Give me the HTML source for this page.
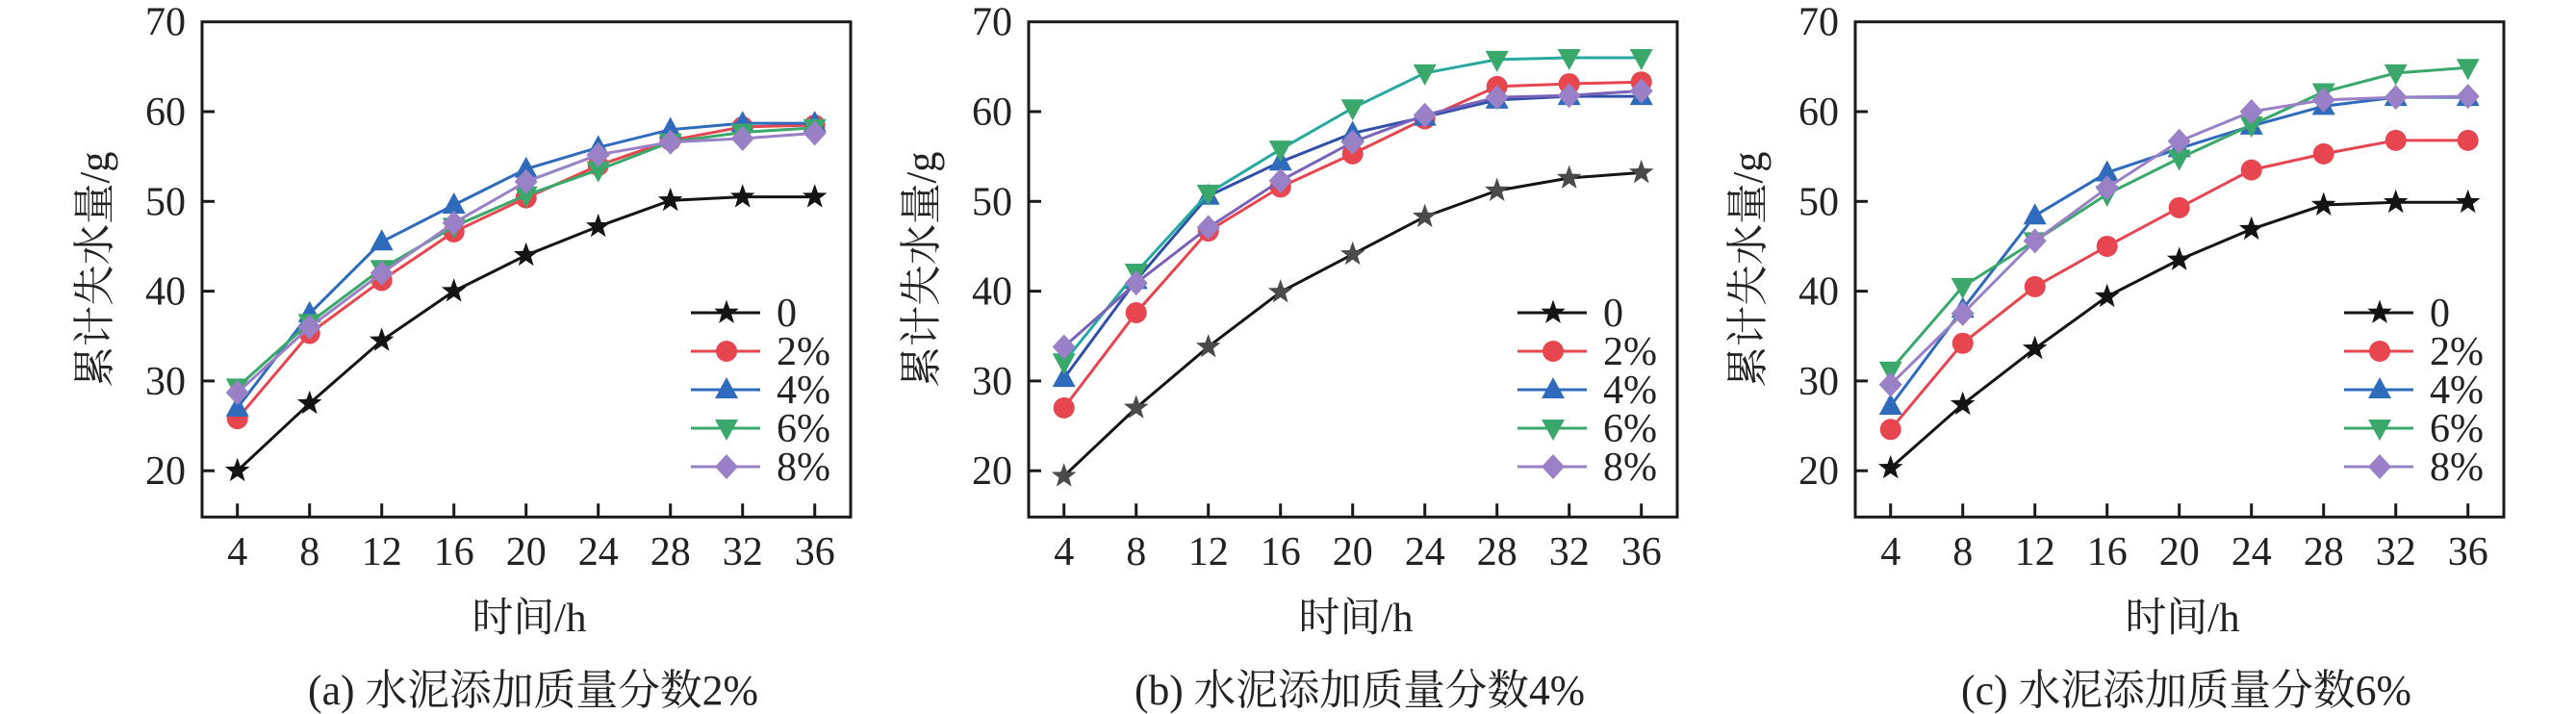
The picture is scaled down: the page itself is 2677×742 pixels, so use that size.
<!DOCTYPE html>
<html><head><meta charset="utf-8"><style>
html,body{margin:0;padding:0;background:#fff;}
svg{display:block;font-family:"Liberation Serif","Noto Serif CJK SC","Noto Sans CJK SC",serif;}
</style></head><body>
<svg id="chart" width="2677" height="742" viewBox="0 0 2677 742" xmlns="http://www.w3.org/2000/svg"></svg>
<script>
const hours = [4, 8, 12, 16, 20, 24, 28, 32, 36];
const yTicks = [20, 30, 40, 50, 60, 70];
const seriesNames = ["0", "2%", "4%", "6%", "8%"];
const captions = ["(a) 水泥添加质量分数2%", "(b) 水泥添加质量分数4%", "(c) 水泥添加质量分数6%"];
const a0 = [20, 27.5, 34.5, 40, 44, 47.2, 50.1, 50.5, 50.5];
const a2 = [25.8, 35.3, 41.2, 46.6, 50.4, 54, 56.8, 58.3, 58.5];
const a4 = [27, 37.5, 45.5, 49.6, 53.6, 56, 58, 58.7, 58.7];
const a6 = [29.3, 36.5, 42.5, 47.2, 50.7, 53.5, 56.6, 57.7, 58.2];
const a8 = [28.7, 36, 42, 47.6, 52.2, 55.2, 56.6, 57, 57.6];
const b0 = [19.4, 27, 33.8, 39.9, 44.1, 48.3, 51.2, 52.6, 53.2];
const b2 = [27.0, 37.6, 46.7, 51.6, 55.3, 59.2, 62.8, 63.1, 63.3];
const b4 = [30.3, 41.2, 50.6, 54.4, 57.6, 59.4, 61.3, 61.7, 61.7];
const b6 = [32.1, 42.1, 50.9, 55.8, 60.4, 64.3, 65.8, 66, 66.0];
const b8 = [33.8, 40.9, 47.1, 52.3, 56.6, 59.6, 61.6, 61.8, 62.3];
const c0 = [20.3, 27.4, 33.6, 39.4, 43.5, 46.9, 49.6, 49.9, 49.9];
const c2 = [24.6, 34.2, 40.5, 45, 49.3, 53.5, 55.3, 56.8, 56.8];
const c4 = [27.2, 38, 48.4, 53.2, 55.9, 58.4, 60.6, 61.6, 61.6];
const c6 = [31.2, 40.5, 45.6, 50.8, 54.8, 58.5, 62.2, 64.3, 64.9];
const c8 = [29.6, 37.5, 45.6, 51.5, 56.7, 60, 61.3, 61.6, 61.7];
const panelData = [[a0,a2,a4,a6,a8],[b0,b2,b4,b6,b8],[c0,c2,c4,c6,c8]];

const NS = "http://www.w3.org/2000/svg";
const svg = document.getElementById("chart");
const colors = ["#141414","#e8464f","#2f6bbd","#3aa86a","#9a80c6"];
const lineColorsB = ["#141414","#e8464f","#2f4fa8","#27a8a0","#7a62b8"];
const markers = ["star","circle","tri","tridown","diamond"];
function mk(tag, attrs, parent){const e=document.createElementNS(NS,tag);for(const k in attrs)e.setAttribute(k,attrs[k]);(parent||svg).appendChild(e);return e;}
function markerPath(type,x,y){
  if(type==="star"){let p="";for(let i=0;i<10;i++){const r=i%2?5.5:13.5;const a=-Math.PI/2+i*Math.PI/5;p+=(i?"L":"M")+(x+r*Math.cos(a)).toFixed(1)+","+(y+r*Math.sin(a)).toFixed(1);}return p+"Z";}
  if(type==="tri")return `M${x},${y-13}L${x+12},${y+9}L${x-12},${y+9}Z`;
  if(type==="tridown")return `M${x},${y+13}L${x+12},${y-9}L${x-12},${y-9}Z`;
  if(type==="diamond")return `M${x},${y-13}L${x+12},${y}L${x},${y+13}L${x-12},${y}Z`;
  return null;
}
function drawMarker(g,type,x,y,color){
  if(type==="circle")return mk("circle",{cx:x,cy:y,r:11,fill:color},g);
  return mk("path",{d:markerPath(type,x,y),fill:color},g);
}
const L0=210,R0=884,T=22.7,B=537.3;
for(let p=0;p<3;p++){
  const ox=p*859;
  const L=L0+ox,R=R0+ox;
  const xs=h=>L+36.7+(h-4)*18.75;
  const ys=v=>T+(70-v)*9.33;
  const g=mk("g",{});
  
  
  const frame=mk("rect",{x:L,y:T,width:R-L,height:B-T,fill:"none",stroke:"#1a1a1a","stroke-width":3},g);
  
  
  yTicks.forEach(v=>{
    const yy=ys(v);
    if(v<70)mk("line",{x1:L,x2:L+13,y1:yy,y2:yy,stroke:"#1a1a1a","stroke-width":3},g);
    const t=mk("text",{x:L-17,y:yy+14,"text-anchor":"end","font-size":42,fill:"#222"},g);
    t.textContent=v;
    
    
  });
  hours.forEach(h=>{
    const xx=xs(h);
    mk("line",{x1:xx,x2:xx,y1:B,y2:B-14,stroke:"#1a1a1a","stroke-width":3},g);
    const t=mk("text",{x:xx,y:587,"text-anchor":"middle","font-size":42,fill:"#222"},g);
    t.textContent=h;
    
    
  });
  const yt=mk("text",{x:0,y:0,transform:`translate(${L-97},${(T+B)/2}) rotate(-90)`,"text-anchor":"middle","font-size":44,textLength:245,lengthAdjust:"spacingAndGlyphs",fill:"#222"},g);
  yt.textContent="累计失水量/g";
  
  
  const xt=mk("text",{x:(L+R)/2+3,y:656,"text-anchor":"middle","font-size":42,textLength:119,lengthAdjust:"spacingAndGlyphs",fill:"#222"},g);
  xt.textContent="时间/h";
  
  
  const cap=mk("text",{x:(L+R)/2+7,y:732,"text-anchor":"middle","font-size":44,textLength:468,lengthAdjust:"spacingAndGlyphs",fill:"#222"},g);
  cap.textContent=captions[p];
  
  
  panelData[p].forEach((vals,si)=>{
    const sg=mk("g",{},g);
    
    
    const lc=p===1?lineColorsB[si]:colors[si];
    const pts=vals.map((v,i)=>xs(hours[i]).toFixed(1)+","+ys(v).toFixed(1)).join(" ");
    const pl=mk("polyline",{points:pts,fill:"none",stroke:lc,"stroke-width":3},sg);
    
    
    vals.forEach((v,i)=>{
      const mc=(p===1&&si===0)?"#4a4a4a":colors[si];
      const m=drawMarker(sg,markers[si],xs(hours[i]),ys(v),mc);
      
      
    });
  });
  const lg=mk("g",{},g);
  
  
  seriesNames.forEach((n,si)=>{
    const yy=325+si*40;
    const lx=L+508;
    const eg=mk("g",{},lg);
    
    
    mk("line",{x1:lx,x2:lx+72,y1:yy,y2:yy,stroke:colors[si],"stroke-width":3},eg);
    drawMarker(eg,markers[si],lx+37,yy,colors[si]);
    const t=mk("text",{x:lx+89,y:yy+14,"font-size":42,fill:"#222"},eg);
    t.textContent=n;
  });
}
</script>
</body></html>
